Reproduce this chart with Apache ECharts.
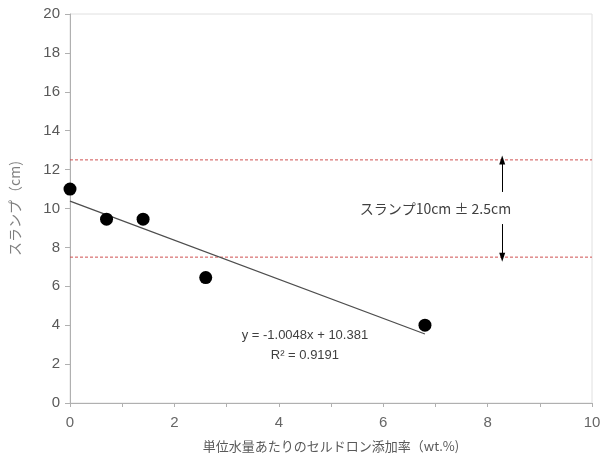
<!DOCTYPE html>
<html>
<head>
<meta charset="utf-8">
<script src="https://cdn.jsdelivr.net/npm/echarts@6/dist/echarts.min.js"></script>
<style>html,body{margin:0;padding:0;background:#fff}#c{width:612px;height:463px}</style>
</head>
<body>
<div id="c"></div>
<script>
// data
const pointX = [0, 0.7, 1.4, 2.6, 6.8];
const pointY = [11, 9.45, 9.45, 6.45, 4.0];
const trendX = [0, 6.8];
const trendY = [10.381, 3.548];
const limitX = [0, 10];
const upperLimit = 12.5;
const lowerLimit = 7.5;
const xTicks = [0, 2, 4, 6, 8, 10];
const yTicks = [0, 2, 4, 6, 8, 10, 12, 14, 16, 18, 20];
const eqText = 'y = -1.0048x + 10.381';
const r2Text = 'R² = 0.9191';
const bandText = 'スランプ10cm ± 2.5cm';
const xTitle = '単位水量あたりのセルドロン添加率（wt.%)';
const yTitle = 'スランプ（cm)';

const font = '"Liberation Sans", "Noto Sans CJK JP", sans-serif';
const chart = echarts.init(document.getElementById('c'));
const arrowX = 8.28;
const redDash = {color: '#d05050', type: [3, 2], width: 1};

chart.setOption({
  animation: false,
  textStyle: {fontFamily: font},
  grid: {left: 70, right: 20, top: 14, bottom: 60, show: true, borderColor: '#e0e0e0', borderWidth: 1},
  xAxis: {
    type: 'value', min: 0, max: 10, interval: 1,
    axisLine: {lineStyle: {color: '#b0b0b0'}},
    axisTick: {show: true, length: 4, lineStyle: {color: '#b0b0b0'}},
    splitLine: {show: false},
    axisLabel: {color: '#666', fontSize: 15, margin: 12,
      formatter: v => xTicks.includes(v) ? String(v) : ''},
    name: xTitle, nameLocation: 'middle', nameGap: 37,
    nameTextStyle: {color: '#595959', fontSize: 13, fontFamily: '"Noto Sans CJK JP", sans-serif'}
  },
  yAxis: {
    type: 'value', min: 0, max: 20, interval: 2,
    axisLine: {show: true, lineStyle: {color: '#b0b0b0'}},
    axisTick: {show: true, length: 5, lineStyle: {color: '#b0b0b0'}},
    splitLine: {show: false},
    axisLabel: {color: '#595959', fontSize: 15, margin: 10,
      formatter: v => yTicks.includes(v) ? String(v) : ''},
    name: yTitle, nameLocation: 'middle', nameGap: 48, nameRotate: 90,
    nameTextStyle: {color: '#7f7f7f', fontSize: 14, fontFamily: '"Noto Sans CJK JP", sans-serif'}
  },
  series: [
    {type: 'line', data: limitX.map(x => [x, upperLimit]), symbol: 'none', lineStyle: redDash, z: 1, silent: true},
    {type: 'line', data: limitX.map(x => [x, lowerLimit]), symbol: 'none', lineStyle: redDash, z: 1, silent: true},
    {
      type: 'line', data: trendX.map((x, i) => [x, trendY[i]]),
      symbol: 'none', lineStyle: {color: '#4d4d4d', width: 1.3}, z: 2
    },
    {
      type: 'scatter', data: pointX.map((x, i) => [x, pointY[i]]),
      symbol: 'circle', symbolSize: 13, itemStyle: {color: '#000', opacity: 1}, z: 3
    },
    {
      type: 'line', data: [], symbol: 'none',
      markLine: {
        silent: true, symbol: ['none', 'triangle'], symbolSize: [6, 9], label: {show: false},
        lineStyle: {color: '#000', type: 'solid', width: 1},
        data: [
          [{coord: [arrowX, 10.85]}, {coord: [arrowX, upperLimit]}],
          [{coord: [arrowX, 9.2]}, {coord: [arrowX, lowerLimit]}]
        ]
      },
      markPoint: {
        silent: true, symbol: 'rect', symbolSize: 1, itemStyle: {color: 'rgba(0,0,0,0)'},
        data: [
          {coord: [7.0, 10.0], label: {show: true, formatter: bandText, color: '#404040', fontSize: 14, fontFamily: '"Noto Sans CJK JP", sans-serif'}},
          {coord: [4.5, 3.45], label: {show: true, formatter: eqText, color: '#404040', fontSize: 13}},
          {coord: [4.5, 2.45], label: {show: true, formatter: r2Text, color: '#404040', fontSize: 13}}
        ]
      }
    }
  ]
});
</script>
</body>
</html>
